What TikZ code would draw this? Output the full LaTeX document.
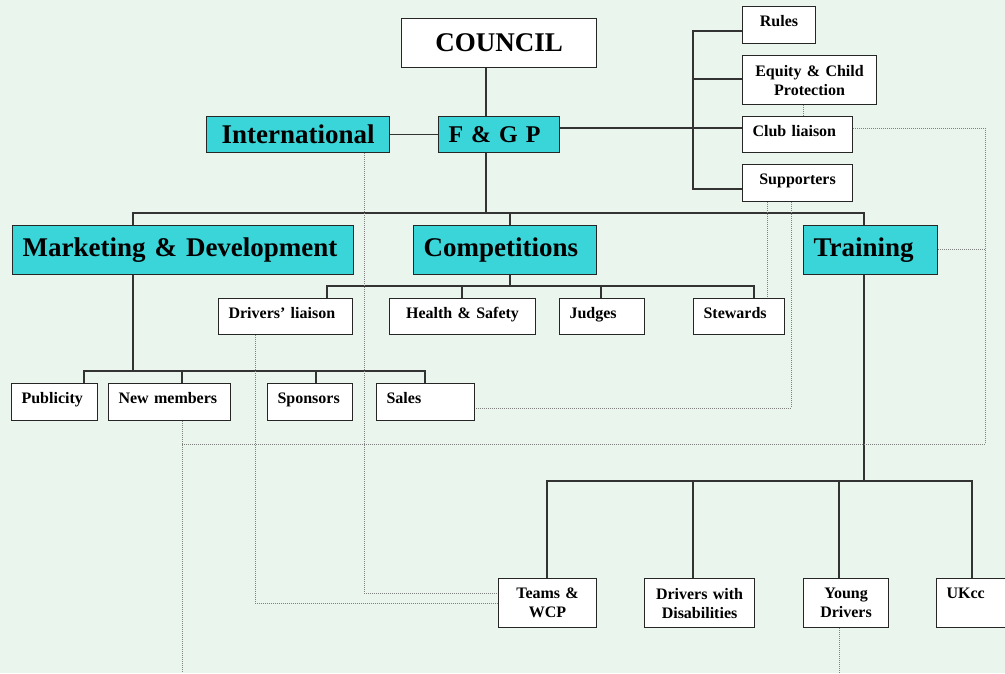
\documentclass[tikz,border=0pt]{standalone}
\usepackage{fontspec}
\setmainfont{Liberation Serif}
\definecolor{bgc}{RGB}{234,245,237}
\definecolor{cy}{RGB}{58,213,216}
\begin{document}
\begin{tikzpicture}[x=1pt,y=-1pt,
  box/.style={draw=black!85, line width=1.1pt, fill=white, anchor=north west,
    inner xsep=10pt, inner ysep=0pt, align=left,
    font=\bfseries\fontsize{16}{19}\selectfont},
  cbox/.style={box, align=center},
  one/.style={text depth=8pt},
  big/.style={box, fill=cy, font=\bfseries\fontsize{27}{30}\selectfont},
  link/.style={draw=black!80, line width=1.1pt},
  dotl/.style={draw=black!50, line width=1pt, dash pattern=on 1pt off 1pt}]
\useasboundingbox (0,0) rectangle (1005,673);
\clip (0,0) rectangle (1005,673);
\fill[bgc] (0,0) rectangle (1005,673);

% nodes
\node[big, align=center, fill=white, text width=175pt, minimum height=49pt] (council) at (401,18) {COUNCIL};
\node[big, font=\bfseries\fontsize{24}{28}\selectfont, text width=101pt, minimum height=36pt] (fgp) at (438,116) {F \& G P};
\node[big, align=center, text width=163pt, minimum height=36pt] (intl) at (206,116) {International};
\node[cbox, one, text width=53pt, minimum height=37pt] (rules) at (742,6) {Rules};
\node[cbox, text width=114pt, minimum height=49pt] (eq) at (742,55) {Equity \& Child\\Protection};
\node[box, one, text width=90pt, minimum height=36pt] (club) at (742,116) {Club liaison};
\node[cbox, one, text width=90pt, minimum height=37pt] (sup) at (742,164) {Supporters};
\node[big, text width=321pt, minimum height=49pt] (md) at (12,225) {Marketing \& Development};
\node[big, text width=163pt, minimum height=49pt] (comp) at (413,225) {Competitions};
\node[big, text width=114pt, minimum height=49pt] (tr) at (803,225) {Training};
\node[box, one, text width=114pt, minimum height=36pt] (dl) at (218,298) {Drivers’ liaison};
\node[cbox, one, text width=126pt, minimum height=36pt] (hs) at (389,298) {Health \& Safety};
\node[box, one, text width=65pt, minimum height=36pt] (jud) at (559,298) {Judges};
\node[box, one, text width=71pt, minimum height=36pt] (stw) at (693,298) {Stewards};
\node[box, one, text width=66pt, minimum height=37pt] (pub) at (11,383) {Publicity};
\node[box, one, text width=102pt, minimum height=37pt] (nm) at (108,383) {New members};
\node[box, one, text width=65pt, minimum height=37pt] (spo) at (267,383) {Sponsors};
\node[box, one, text width=78pt, minimum height=37pt] (sales) at (376,383) {Sales};
\node[cbox, text width=78pt, minimum height=49pt] (teams) at (498,578) {Teams \&\\WCP};
\node[cbox, text width=90pt, minimum height=49pt] (dwd) at (644,578) {Drivers with\\Disabilities};
\node[cbox, text width=65pt, minimum height=49pt] (young) at (803,578) {Young\\Drivers};
\node[box, text width=70pt, minimum height=49pt] (ukcc) at (936,578) {UKcc\\\mbox{}};

% solid connectors
\draw[link] (486,0 |- council.south) -- (486,0 |- fgp.north);
\draw[link] (486,0 |- fgp.south) -- (486,213);
\draw[link] (133,0 |- md.north) -- (133,213) -- (864,213) -- (864,0 |- tr.north);
\draw[link] (510,213) -- (510,0 |- comp.north);
\draw[link] (intl.east) -- (intl.east -| fgp.west);
\draw[link] (fgp.east |- 0,128) -- (club.west |- 0,128);
\draw[link] (rules.west |- 0,31) -- (693,31) -- (693,189) -- (sup.west |- 0,189);
\draw[link] (693,79) -- (eq.west |- 0,79);
\draw[link] (510,0 |- comp.south) -- (510,286);
\draw[link] (327,0 |- dl.north) -- (327,286) -- (754,286) -- (754,0 |- stw.north);
\draw[link] (462,286) -- (462,0 |- hs.north);
\draw[link] (601,286) -- (601,0 |- jud.north);
\draw[link] (133,0 |- md.south) -- (133,371);
\draw[link] (84,0 |- pub.north) -- (84,371) -- (425,371) -- (425,0 |- sales.north);
\draw[link] (182,371) -- (182,0 |- nm.north);
\draw[link] (316,371) -- (316,0 |- spo.north);
\draw[link] (864,0 |- tr.south) -- (864,481);
\draw[link] (547,0 |- teams.north) -- (547,481) -- (972,481) -- (972,0 |- ukcc.north);
\draw[link] (693,481) -- (693,0 |- dwd.north);
\draw[link] (839,481) -- (839,0 |- young.north);

% dotted connectors
\draw[dotl] (803,0 |- eq.south) -- (803,0 |- club.north);
\draw[dotl] (club.east |- 0,128) -- (985,128) -- (985,444) -- (182,444);
\draw[dotl] (tr.east |- 0,249) -- (985,249);
\draw[dotl] (182,0 |- nm.south) -- (182,673);
\draw[dotl] (767,0 |- sup.south) -- (767,0 |- stw.north);
\draw[dotl] (791,0 |- sup.south) -- (791,408) -- (sales.east |- 0,408);
\draw[dotl] (364,0 |- intl.south) -- (364,593) -- (teams.west |- 0,593);
\draw[dotl] (255,0 |- dl.south) -- (255,603) -- (teams.west |- 0,603);
\draw[dotl] (839,0 |- young.south) -- (839,673);
\end{tikzpicture}
\end{document}
